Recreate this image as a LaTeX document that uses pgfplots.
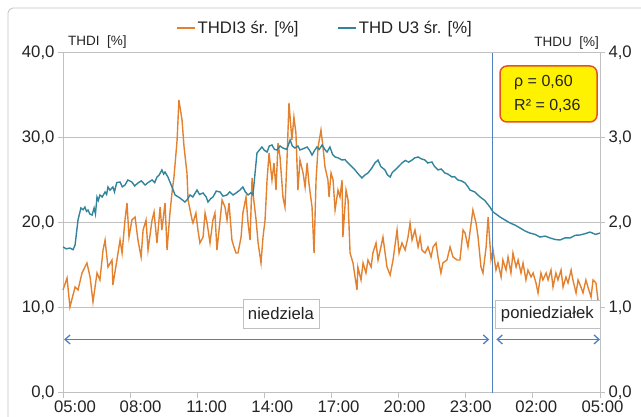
\documentclass[border=0pt]{standalone}
\usepackage{pgfplots}
\usepackage{pgfplotstable}
\pgfplotsset{compat=1.18}
\usepackage{fontspec}
\setmainfont{Liberation Sans}
\usetikzlibrary{arrows.meta}
\definecolor{thdi}{RGB}{228,129,46}
\definecolor{thdu}{RGB}{49,132,155}
\definecolor{vline}{RGB}{79,129,189}
\definecolor{gridc}{RGB}{192,192,192}
\definecolor{boxred}{RGB}{232,80,30}
\definecolor{txt}{RGB}{35,35,35}

\pgfplotstableread{
h v
0 12.06
0.18 13.47
0.31 10.06
0.54 12.41
0.67 12.06
0.85 14.06
1.07 15.24
1.21 13.59
1.34 10.65
1.52 14.06
1.65 13.24
1.79 16.76
1.88 17.94
2.01 14.76
2.19 15.59
2.23 12.65
2.41 15.59
2.55 17.94
2.64 16.41
2.77 20.29
2.86 22.29
2.95 18.29
3.08 20.29
3.22 20.65
3.35 17.94
3.49 15.94
3.58 19.12
3.71 20.29
3.80 16.76
3.98 20.29
4.07 21.24
4.20 17.59
4.34 21.82
4.42 19.12
4.56 22.29
4.65 16.76
4.78 21.12
4.87 23.47
4.96 25.35
5.10 29.71
5.18 34.41
5.32 32.06
5.41 28.88
5.54 25.82
5.59 22.65
5.77 20.29
5.81 19.94
5.94 21.12
6.03 19.12
6.12 17.59
6.26 18.29
6.35 21.12
6.44 19.94
6.57 17.59
6.70 20.29
6.79 21.12
6.88 16.76
7.02 20.29
7.11 22.65
7.24 21.82
7.33 20.29
7.42 22.29
7.55 17.94
7.64 17.12
7.73 16.41
7.82 16.41
7.96 18.29
8.04 21.12
8.18 23.00
8.27 19.94
8.36 17.94
8.45 25.24
8.49 23.47
8.63 20.29
8.72 17.59
8.85 15.24
8.94 18.29
9.03 20.29
9.12 25.00
9.21 28.18
9.34 25.00
9.43 27.00
9.52 23.82
9.61 29.35
9.70 27.71
9.83 23.00
9.92 21.82
10.01 27.35
10.10 34.06
10.23 29.71
10.32 32.41
10.41 30.53
10.50 23.82
10.59 27.35
10.73 25.82
10.82 24.18
10.91 27.00
10.99 24.65
11.13 21.82
11.22 16.41
11.31 25.00
11.40 28.88
11.53 30.88
11.62 28.88
11.71 26.53
11.84 25.00
11.89 23.00
11.98 25.82
12.07 25.00
12.16 21.47
12.29 23.82
12.38 23.00
12.47 25.00
12.51 18.29
12.65 23.82
12.74 22.65
12.83 16.41
12.96 15.24
13.14 12.06
13.18 14.76
13.32 13.24
13.41 15.24
13.54 14.06
13.63 15.59
13.77 14.76
13.85 16.41
13.99 17.59
14.08 15.59
14.21 17.12
14.30 18.29
14.48 14.76
14.62 13.82
14.75 15.59
14.93 19.12
15.02 16.41
15.15 17.59
15.29 16.76
15.42 18.29
15.51 19.94
15.60 17.94
15.73 19.12
15.87 17.12
15.96 18.29
16.04 16.76
16.18 16.41
16.31 17.12
16.45 15.94
16.54 17.12
16.67 17.59
16.76 15.94
16.89 14.06
16.98 15.24
17.16 15.59
17.30 17.12
17.43 15.94
17.61 15.59
17.74 15.59
17.88 19.12
17.97 18.76
18.10 17.12
18.32 21.47
18.46 19.94
18.55 18.29
18.68 14.76
18.77 14.06
18.91 17.12
19.00 20.65
19.13 15.59
19.22 16.76
19.35 14.41
19.44 15.24
19.58 13.59
19.66 15.59
19.80 14.41
19.89 15.94
20.02 14.06
20.11 16.41
20.25 14.76
20.34 15.59
20.47 14.06
20.56 15.24
20.69 13.24
20.78 14.41
20.92 13.59
21.01 14.06
21.14 12.88
21.23 11.71
21.36 14.06
21.45 13.24
21.59 14.06
21.68 13.24
21.81 14.41
21.90 12.41
22.03 14.06
22.12 13.24
22.26 14.41
22.35 12.41
22.48 13.59
22.57 12.88
22.71 14.41
22.79 13.24
22.93 11.71
23.02 13.24
23.15 12.41
23.24 11.71
23.37 13.24
23.46 12.41
23.60 11.24
23.69 13.24
23.82 12.88
23.91 10.88
24.00 10.53
}\thditable

\pgfplotstableread{
h u
0 1.712
0.15 1.69
0.31 1.700
0.45 1.68
0.54 1.735
0.67 2.029
0.80 2.171
0.90 2.15
0.98 2.182
1.05 2.13
1.12 2.147
1.20 2.10
1.30 2.088
1.39 2.171
1.45 2.10
1.52 2.300
1.58 2.26
1.65 2.324
1.75 2.30
1.88 2.359
1.95 2.33
2.01 2.418
2.10 2.38
2.23 2.418
2.30 2.36
2.40 2.47
2.55 2.476
2.65 2.42
2.77 2.441
2.90 2.50
3.08 2.476
3.20 2.43
3.35 2.465
3.50 2.49
3.67 2.441
3.80 2.47
3.98 2.500
4.10 2.47
4.20 2.535
4.30 2.56
4.42 2.618
4.50 2.57
4.56 2.594
4.69 2.535
4.87 2.418
5.01 2.324
5.23 2.288
5.45 2.241
5.55 2.27
5.68 2.324
5.80 2.30
5.99 2.382
6.10 2.33
6.26 2.347
6.40 2.30
6.48 2.241
6.60 2.28
6.70 2.300
6.85 2.37
7.02 2.359
7.15 2.31
7.33 2.324
7.45 2.36
7.60 2.324
7.75 2.35
7.91 2.382
8.04 2.418
8.15 2.36
8.27 2.324
8.40 2.35
8.49 2.324
8.67 2.818
8.89 2.888
9.00 2.85
9.12 2.829
9.22 2.90
9.34 2.912
9.45 2.86
9.56 2.853
9.70 2.90
9.83 2.876
10.00 2.86
10.15 2.971
10.25 2.90
10.37 2.876
10.50 2.90
10.59 2.853
10.75 2.87
10.91 2.888
11.02 2.85
11.13 2.794
11.25 2.85
11.35 2.888
11.45 2.86
11.58 2.912
11.70 2.86
11.80 2.829
11.93 2.888
12.05 2.80
12.16 2.771
12.30 2.76
12.47 2.735
12.60 2.74
12.74 2.700
12.90 2.66
13.05 2.618
13.20 2.57
13.36 2.524
13.50 2.56
13.63 2.582
13.80 2.64
13.94 2.700
14.08 2.735
14.20 2.66
14.39 2.618
14.50 2.56
14.62 2.535
14.72 2.59
14.84 2.618
15.00 2.66
15.15 2.700
15.30 2.73
15.45 2.71
15.60 2.735
15.72 2.76
15.87 2.771
16.00 2.75
16.18 2.735
16.30 2.70
16.49 2.712
16.60 2.66
16.76 2.618
16.90 2.63
17.07 2.582
17.20 2.57
17.39 2.535
17.50 2.54
17.65 2.500
17.80 2.49
17.97 2.465
18.10 2.42
18.19 2.382
18.40 2.36
18.64 2.300
18.85 2.26
19.08 2.182
19.22 2.124
19.35 2.10
19.53 2.065
19.75 2.03
19.98 1.994
20.20 1.97
20.43 1.935
20.65 1.90
20.87 1.876
21.10 1.86
21.32 1.829
21.55 1.84
21.77 1.818
22.00 1.80
22.21 1.794
22.45 1.82
22.66 1.818
22.90 1.85
23.11 1.853
23.35 1.87
23.55 1.888
23.80 1.86
24.00 1.876
}\thdutable

\newcommand\mainfs{\fontsize{16.7}{20}\selectfont}
\newcommand\smallfs{\fontsize{13.5}{16}\selectfont}

\begin{document}
\begin{tikzpicture}[x=1pt,y=1pt]
\useasboundingbox (0,0) rectangle (641,-417);
\draw[gridc, line width=0.8pt, rounded corners=5pt] (8,-440) -- (8,-8) -- (660,-8);
\begin{axis}[
  name=main,
  at={(63pt,-392.5pt)}, anchor=south west,
  scale only axis, width=537pt, height=340pt,
  xmin=0, xmax=24, ymin=0, ymax=40,
  clip=false,
  xtick={0,3,...,24},
  xticklabels={\kern24pt 05:00,\kern21pt 08:00,\kern19pt 11:00,\kern16pt 14:00,\kern14pt 17:00,\kern12pt 20:00,\kern10pt 23:00,\kern7pt 02:00,\kern5pt 05:00},
  ytick={0,10,20,30,40},
  xtick pos=bottom, ytick pos=left,
  ymajorgrids, grid style={gridc, line width=0.8pt},
  axis line style={gridc, line width=0.8pt},
  tick style={gridc, line width=0.8pt},
  tick align=outside, major tick length=5pt,
  yticklabel style={/pgf/number format/.cd, fixed, fixed zerofill, precision=1, use comma},
  /pgf/number format/assume math mode=true,
  ticklabel style={font=\mainfs, text=txt},
  legend style={at={(0.205,1.072)}, anchor=west, draw=none, fill=none,
    legend columns=2, font=\mainfs, text=txt,
    /tikz/every even column/.append style={column sep=37pt}},
  legend image code/.code={\draw[#1] (0pt,0pt) -- (18pt,0pt);},
]
\addplot[thdi, line width=1.4pt] table[x=h, y=v] {\thditable};
\addlegendentry{THDI3 śr. [\%]}
\addlegendimage{thdu, line width=1.4pt}
\addlegendentry{THD U3 śr. [\%]}
\draw[vline, line width=1.5pt] (axis cs:19.2,0) -- (axis cs:19.2,40);
\draw[vline, line width=1.3pt, {Straight Barb[length=5pt,width=9pt]}-{Straight Barb[length=5pt,width=9pt]}] (axis cs:0.05,6.24) -- (axis cs:19.05,6.24);
\draw[vline, line width=1.3pt, {Straight Barb[length=5pt,width=9pt]}-{Straight Barb[length=5pt,width=9pt]}] (axis cs:19.37,6.24) -- (axis cs:24,6.24);
\node[draw=gridc, fill=white, line width=0.8pt, minimum width=76pt, minimum height=29pt, inner sep=0pt, font=\mainfs, text=txt] at (axis cs:9.74,9.29) {niedziela};
\node[draw=gridc, fill=white, line width=0.8pt, minimum width=105pt, minimum height=28pt, inner sep=0pt, font=\mainfs, text=txt] at (axis cs:21.65,9.24) {poniedziałek};
\end{axis}
\begin{axis}[
  at={(63pt,-392.5pt)}, anchor=south west,
  scale only axis, width=537pt, height=340pt,
  xmin=0, xmax=24, ymin=0, ymax=4,
  axis x line=none,
  axis y line*=right,
  ytick={0,1,2,3,4}, ytick pos=right,
  axis line style={gridc, line width=0.8pt},
  tick style={gridc, line width=0.8pt},
  tick align=outside, major tick length=5pt,
  yticklabel style={/pgf/number format/.cd, fixed, fixed zerofill, precision=1, use comma},
  /pgf/number format/assume math mode=true,
  ticklabel style={font=\mainfs, text=txt},
]
\addplot[thdu, line width=1.4pt] table[x=h, y=u] {\thdutable};
\end{axis}
\node[anchor=west, inner sep=0pt, font=\smallfs, text=txt] at (68,-42) {THDI\ \ [\%]};
\node[anchor=east, inner sep=0pt, font=\smallfs, text=txt] at (599,-43) {THDU\ \ [\%]};
\draw[boxred, fill=yellow, line width=1.5pt, rounded corners=7pt] (500,-66) rectangle (597,-122);
\node[anchor=west, inner sep=0pt, font=\fontsize{16}{19}\selectfont, text=txt] at (514,-83) {ρ = 0,60};
\node[anchor=west, inner sep=0pt, font=\fontsize{16}{19}\selectfont, text=txt] at (514,-106) {R² = 0,36};
\end{tikzpicture}
\end{document}
